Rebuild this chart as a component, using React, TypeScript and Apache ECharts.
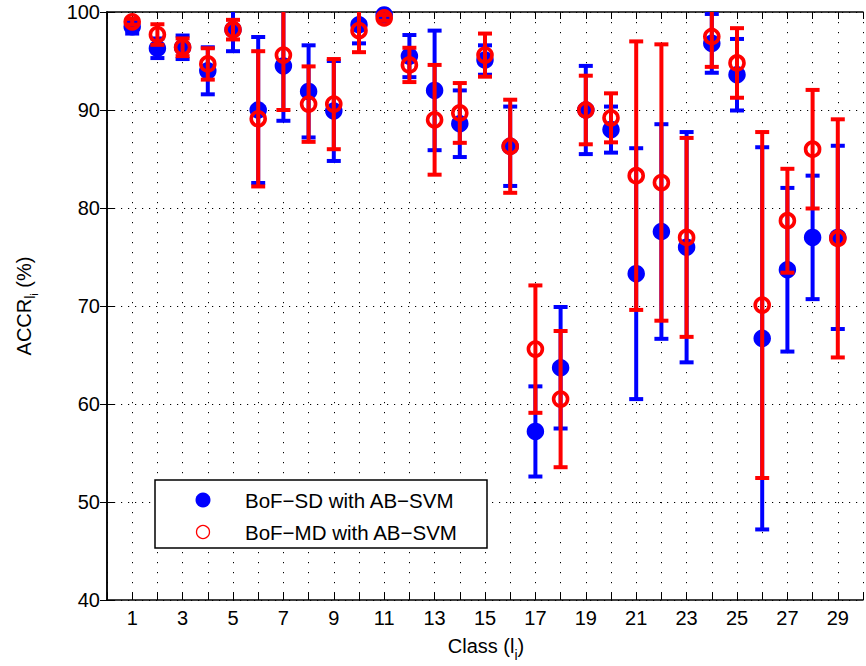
import React, { useEffect, useRef } from "react";
import * as echarts from "echarts";

// Class indices on the x axis
const classIds = [
  1, 2, 3, 4, 5, 6, 7, 8, 9, 10, 11, 12, 13, 14, 15, 16, 17, 18, 19, 20, 21, 22,
  23, 24, 25, 26, 27, 28, 29,
];

// BoF-SD with AB-SVM: mean accuracy and error half-width per class
const sdMean = [
  98.5, 96.3, 96.4, 94.0, 98.2, 90.0, 94.5, 91.9, 89.9, 98.7, 99.7, 95.5, 92.0,
  88.6, 95.1, 86.3, 57.2, 63.7, 90.0, 88.0, 73.3, 77.6, 76.0, 96.8, 93.6, 66.7,
  73.7, 77.0, 77.0,
];
const sdErr = [
  0.7, 1.0, 1.2, 2.4, 2.2, 7.45, 5.6, 4.7, 5.1, 1.9, 0.4, 2.15, 6.1, 3.4, 1.5,
  4.05, 4.6, 6.2, 4.5, 2.35, 12.8, 10.95, 11.75, 3.0, 3.65, 19.5, 8.35, 6.3,
  9.35,
];

// BoF-MD with AB-SVM: mean accuracy and error half-width per class
const mdMean = [
  99.0, 97.7, 96.4, 94.7, 98.2, 89.1, 95.6, 90.6, 90.6, 98.1, 99.4, 94.6, 89.0,
  89.7, 95.6, 86.3, 65.6, 60.5, 90.0, 89.2, 83.3, 82.6, 77.0, 97.5, 94.8, 70.1,
  78.7, 86.0, 76.9,
];
const mdErr = [
  0.3, 1.05, 0.9, 1.6, 1.0, 6.9, 5.6, 3.85, 4.6, 2.2, 0.3, 1.75, 5.6, 3.05, 2.2,
  4.75, 6.5, 6.95, 3.5, 2.5, 13.7, 14.1, 10.15, 3.1, 3.55, 17.65, 5.3, 6.05,
  12.15,
];

const seriesNames = ["BoF\u2212SD with AB\u2212SVM", "BoF\u2212MD with AB\u2212SVM"];
const X_MIN = 0;
const X_MAX = 30;
const Y_MIN = 40;
const Y_MAX = 100;

const FONT = '"Liberation Sans", Arial, Helvetica, sans-serif';
const BLUE = "#0000ff";
const RED = "#ff0000";

const GRID = { left: 107, right: 1, top: 12, bottom: 66 };
const W = 866;
const H = 666;

function textWidth(s: string, size: number): number {
  const ctx = document.createElement("canvas").getContext("2d");
  if (!ctx) return s.length * size * 0.55;
  ctx.font = `${size}px "Liberation Sans"`;
  return ctx.measureText(s).width;
}

function errorBarRenderer(color: string) {
  return (_params: any, api: any) => {
    const x = api.value(0);
    const m = api.value(1);
    const e = api.value(2);
    const hiV = Math.min(m + e, Y_MAX);
    const loV = Math.max(m - e, Y_MIN);
    const pHi = api.coord([x, hiV]);
    const pLo = api.coord([x, loV]);
    const half = 7;
    const style = { stroke: color, lineWidth: 4 };
    const children: any[] = [
      {
        type: "line",
        shape: { x1: pHi[0], y1: pHi[1], x2: pLo[0], y2: pLo[1] },
        style,
      },
    ];
    if (m + e <= Y_MAX) {
      children.push({
        type: "line",
        shape: { x1: pHi[0] - half, y1: pHi[1], x2: pHi[0] + half, y2: pHi[1] },
        style,
      });
    }
    if (m - e >= Y_MIN) {
      children.push({
        type: "line",
        shape: { x1: pLo[0] - half, y1: pLo[1], x2: pLo[0] + half, y2: pLo[1] },
        style,
      });
    }
    return { type: "group", children };
  };
}

export default function App() {
  const ref = useRef<HTMLDivElement>(null);

  useEffect(() => {
    if (!ref.current) return;
    const chart = echarts.init(ref.current, undefined, { renderer: "svg" });

    const dottedV = { color: "#000", width: 1, type: [1.2, 8.8] as any };
    const dottedH = { color: "#000", width: 1, type: [1.2, 5.8] as any };
    const axisLine = { show: true, lineStyle: { color: "#000", width: 1.5 } };
    const tick = { show: true, inside: true, length: 7, lineStyle: { color: "#000", width: 1 } };
    const labelStyle = { color: "#000", fontSize: 20, fontFamily: FONT };

    // x-axis title: Class (l_i)
    const xt1 = "Class (l";
    const xt2 = "i";
    const xt3 = ")";
    const w1 = textWidth(xt1, 20);
    const w2 = textWidth(xt2, 14);
    const w3 = textWidth(xt3, 20);
    const plotCx = GRID.left + (W - GRID.left - GRID.right) / 2;
    const x0 = plotCx - (w1 + w2 + w3) / 2;
    const xTitleY = 646;

    // y-axis title: ACCR_{l_i} (%)
    const yt1 = "ACCR";
    const yt2 = "l";
    const yt3 = "i";
    const yt4 = " (%)";
    const v1 = textWidth(yt1, 20);
    const v2 = textWidth(yt2, 14);
    const v3 = textWidth(yt3, 11);
    const v4 = textWidth(yt4, 20);
    const vTot = v1 + v2 + v3 + v4;
    const plotCy = GRID.top + (H - GRID.top - GRID.bottom) / 2;
    const y0 = -vTot / 2;

    const txt = (x: number, y: number, text: string, size: number, extra: any = {}) => ({
      type: "text",
      x,
      y,
      style: {
        text,
        fill: "#000",
        fontSize: size,
        fontFamily: FONT,
        textAlign: "left",
        textVerticalAlign: "middle",
        ...extra,
      },
    });

    chart.setOption({
      animation: false,
      textStyle: { fontFamily: FONT },
      grid: { ...GRID, containLabel: false },
      xAxis: [
        {
          type: "value",
          min: X_MIN,
          max: X_MAX,
          interval: 1,
          position: "bottom",
          axisLine,
          axisTick: tick,
          axisLabel: {
            ...labelStyle,
            margin: 8,
            formatter: (v: number) => (v % 2 === 1 ? String(v) : ""),
          },
          splitLine: { show: true, lineStyle: dottedV },
        },
        {
          type: "value",
          min: X_MIN,
          max: X_MAX,
          interval: 1,
          position: "top",
          axisLine,
          axisTick: tick,
          axisLabel: { show: false },
          splitLine: { show: false },
        },
      ],
      yAxis: [
        {
          type: "value",
          min: Y_MIN,
          max: Y_MAX,
          interval: 10,
          position: "left",
          axisLine,
          axisTick: tick,
          axisLabel: { ...labelStyle, margin: 7 },
          splitLine: { show: true, lineStyle: dottedH },
        },
        {
          type: "value",
          min: Y_MIN,
          max: Y_MAX,
          interval: 10,
          position: "right",
          axisLine,
          axisTick: tick,
          axisLabel: { show: false },
          splitLine: { show: false },
        },
      ],
      series: [
        {
          type: "custom",
          name: seriesNames[0] + " error",
          z: 2,
          renderItem: errorBarRenderer(BLUE),
          encode: { x: 0, y: 1 },
          data: classIds.map((c, i) => [c, sdMean[i], sdErr[i]]),
        },
        {
          type: "scatter",
          name: seriesNames[0],
          z: 3,
          symbol: "circle",
          symbolSize: 17.5,
          clip: false,
          itemStyle: { color: BLUE, opacity: 1 },
          data: classIds.map((c, i) => [c, sdMean[i]]),
        },
        {
          type: "custom",
          name: seriesNames[1] + " error",
          z: 4,
          renderItem: errorBarRenderer(RED),
          encode: { x: 0, y: 1 },
          data: classIds.map((c, i) => [c, mdMean[i], mdErr[i]]),
        },
        {
          type: "scatter",
          name: seriesNames[1],
          z: 5,
          symbol: "circle",
          symbolSize: 14,
          clip: false,
          itemStyle: { color: "none", borderColor: RED, borderWidth: 3.6, opacity: 1 },
          data: classIds.map((c, i) => [c, mdMean[i]]),
        },
      ],
      graphic: [
        // legend
        {
          type: "rect",
          z: 10,
          shape: { x: 155, y: 480, width: 332, height: 68 },
          style: { fill: "#fff", stroke: "#000", lineWidth: 1.5 },
        },
        {
          type: "circle",
          z: 11,
          shape: { cx: 203, cy: 500, r: 7.5 },
          style: { fill: BLUE },
        },
        {
          type: "circle",
          z: 11,
          shape: { cx: 203, cy: 532, r: 6.5 },
          style: { fill: "none", stroke: RED, lineWidth: 1.3 },
        },
        { ...txt(245, 500, seriesNames[0], 20.5), z: 11 },
        { ...txt(245, 532, seriesNames[1], 20.5), z: 11 },
        // x-axis title
        txt(x0, xTitleY, xt1, 20),
        txt(x0 + w1, xTitleY + 9, xt2, 14),
        txt(x0 + w1 + w2, xTitleY, xt3, 20),
        // y-axis title
        {
          type: "group",
          x: 24,
          y: plotCy,
          rotation: Math.PI / 2,
          children: [
            txt(y0, 0, yt1, 20),
            txt(y0 + v1, 6, yt2, 14),
            txt(y0 + v1 + v2, 10, yt3, 11),
            txt(y0 + v1 + v2 + v3, 0, yt4, 20),
          ],
        },
      ],
    });

    return () => chart.dispose();
  }, []);

  return (
    <div
      ref={ref}
      style={{ position: "fixed", left: 0, top: 0, width: W, height: H, background: "#fff" }}
    />
  );
}
